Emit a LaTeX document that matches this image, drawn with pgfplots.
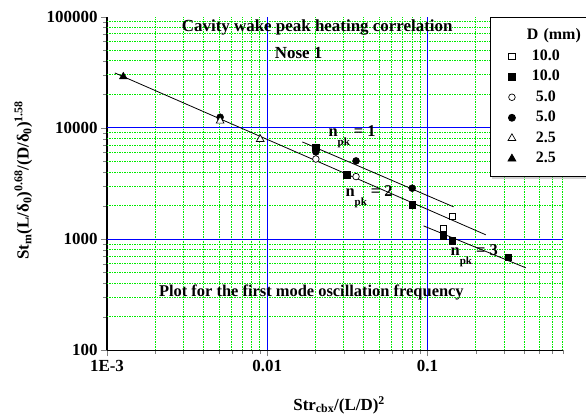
\documentclass[border=0pt]{standalone}
\usepackage{pgfplots}
\pgfplotsset{compat=1.18}
\usepackage{fontspec}
\setmainfont{Liberation Serif}
\usetikzlibrary{shadows}
\definecolor{gridgreen}{RGB}{0,235,0}
\definecolor{gridblue}{RGB}{0,0,255}
\newcommand{\pk}{\raisebox{-0.5em}{\fontsize{11}{12}\selectfont pk}}
\begin{document}
\begin{tikzpicture}
\useasboundingbox (-107bp,-69bp) rectangle (479bp,350.3bp);
\begin{axis}[
  at={(0,0)}, anchor=south west,
  scale only axis, width=456bp, height=333.6bp,
  xmode=log, ymode=log,
  xmin=0.001, xmax=0.7, ymin=100, ymax=100000,
  axis x line*=bottom, axis y line*=left,
  axis line style={-, line width=1.2bp},
  every outer x axis line/.append style={-},
  every outer y axis line/.append style={-},
  xtick={0.001,0.01,0.1}, xticklabels={1E-3,0.01,0.1},
  ytick={100,1000,10000,100000}, yticklabels={100,1000,10000,100000},
  minor xtick={0.002,0.003,0.004,0.005,0.006,0.007,0.008,0.009,0.02,0.03,0.04,0.05,0.06,0.07,0.08,0.09,0.2,0.3,0.4,0.5,0.6,0.7},
  minor ytick={200,300,400,500,600,700,800,900,2000,3000,4000,5000,6000,7000,8000,9000,20000,30000,40000,50000,60000,70000,80000,90000},
  tick align=outside,
  major tick length=6bp, minor tick length=3.5bp,
  grid=none,
  tick label style={font=\fontsize{17}{20}\selectfont\bfseries},
  xlabel={Str\textsubscript{cbx}/(L/D)\textsuperscript{2}},
  ylabel={St\textsubscript{m}(L/δ\textsubscript{0})\textsuperscript{0.68}/(D/δ\textsubscript{0})\textsuperscript{1.58}},
  label style={font=\fontsize{17}{20}\selectfont\bfseries},
  xlabel style={at={(axis description cs:0.509,-0.18)}, anchor=base},
  ylabel style={at={(axis description cs:-0.1717,0.51)}, anchor=base, rotate=0},
  legend style={at={(axis description cs:0.84,0.998)}, anchor=north west,
    draw=black, line width=0.8bp, fill=white,
    font=\fontsize{16}{19}\selectfont\bfseries,
    inner xsep=13bp, inner ysep=10bp, row sep=4.5bp, column sep=0bp,
    nodes={inner sep=0bp, text height=12bp, text depth=4bp},
    /tikz/every even column/.append style={text width=60bp, align=center},
    drop shadow={shadow xshift=2bp, shadow yshift=-2bp, fill=gray!70}},
  legend cell align=center,
]
% grid lines
\pgfplotsinvokeforeach{0.002,0.003,0.004,0.005,0.006,0.007,0.008,0.009,0.02,0.03,0.04,0.05,0.06,0.07,0.08,0.09,0.2,0.3,0.4,0.5,0.6,0.7}{
  \draw[gridgreen, line width=1bp, dash pattern=on 1.5bp off 1bp] (axis cs:#1,100) -- (axis cs:#1,100000);
}
\pgfplotsinvokeforeach{200,300,400,500,600,700,800,900,2000,3000,4000,5000,6000,7000,8000,9000,20000,30000,40000,50000,60000,70000,80000,90000}{
  \draw[gridgreen, line width=1bp, dash pattern=on 1.5bp off 1bp] (axis cs:0.001,#1) -- (axis cs:0.7,#1);
}
\pgfplotsinvokeforeach{0.01,0.1}{
  \draw[gridblue, line width=1bp] (axis cs:#1,100) -- (axis cs:#1,100000);
}
\pgfplotsinvokeforeach{1000,10000}{
  \draw[gridblue, line width=1bp] (axis cs:0.001,#1) -- (axis cs:0.7,#1);
}
\addlegendimage{empty legend}
\addlegendentry{\makebox[60bp][r]{D (mm)\hspace*{-5bp}}}

\addplot[black, line width=0.8bp, no marks, forget plot] coordinates {(0.00112,31200) (0.2305,1094)};
\addplot[black, line width=0.8bp, no marks, forget plot] coordinates {(0.01656,7480) (0.1454,1950)};
\addplot[black, line width=0.8bp, no marks, forget plot] coordinates {(0.0944,1315) (0.41,552)};

\addplot[only marks, mark=square*, mark size=3.2bp, mark options={draw=black, fill=white, line width=0.7bp}] coordinates {(0.1426,1597) (0.1253,1256)};
\addlegendentry{10.0}
\addplot[only marks, mark=square*, mark size=3.3bp, mark options={draw=black, fill=black}] coordinates {(0.0201,6680) (0.0312,3790) (0.0802,2030) (0.1253,1077) (0.1426,972) (0.319,689)};
\addlegendentry{10.0}
\addplot[only marks, mark=*, mark size=3.3bp, mark options={draw=black, fill=white, line width=0.7bp}] coordinates {(0.0201,5250) (0.0358,3650)};
\addlegendentry{5.0}
\addplot[only marks, mark=*, mark size=3.5bp, mark options={draw=black, fill=black}] coordinates {(0.0201,6080) (0.0358,5050) (0.0802,2870) (0.00508,12480)};
\addlegendentry{5.0}
\addplot[only marks, mark=triangle*, mark size=4.5bp, mark options={draw=black, fill=white, line width=0.7bp}] coordinates {(0.00508,11560) (0.00904,7900)};
\addlegendentry{2.5}
\addplot[only marks, mark=triangle*, mark size=4.5bp, mark options={draw=black, fill=black}] coordinates {(0.001264,28900)};
\addlegendentry{2.5}

\node[font=\fontsize{17}{20}\selectfont\bfseries] at (axis cs:0.0205,80800) {Cavity wake peak heating correlation};
\node[font=\fontsize{17}{20}\selectfont\bfseries] at (axis cs:0.0157,47500) {Nose 1};
\node[font=\fontsize{16.5}{20}\selectfont\bfseries] at (axis cs:0.01884,329) {Plot for the first mode oscillation frequency};
\node[font=\fontsize{16.5}{20}\selectfont\bfseries, anchor=base west, inner sep=0pt] at (axis cs:0.02405,8300) {n\pk\ = 1};
\node[font=\fontsize{16.5}{20}\selectfont\bfseries, anchor=base west, inner sep=0pt] at (axis cs:0.0307,2400) {n\pk\ = 2};
\node[font=\fontsize{16.5}{20}\selectfont\bfseries, anchor=base west, inner sep=0pt] at (axis cs:0.139,707) {n\pk\ = 3};
\end{axis}
\end{tikzpicture}
\end{document}
